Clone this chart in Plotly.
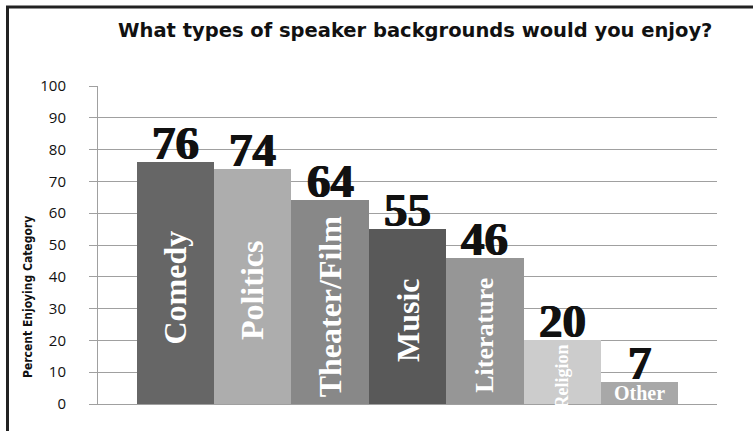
import plotly.graph_objects as go

# ---- data ----
categories = ["Comedy", "Politics", "Theater/Film", "Music", "Literature", "Religion", "Other"]
values = [76, 74, 64, 55, 46, 20, 7]
bar_colors = ["#666666", "#ADADAD", "#888888", "#595959", "#969696", "#CCCCCC", "#A8A8A8"]
label_sizes = [32, 32, 32, 32, 26, 18, 20]
label_angles = [-90, -90, -90, -90, -90, -90, 0]
y_ticks = list(range(0, 101, 10))

W, H = 753, 431
ML, MR, MT, MB = 98, 36, 86, 27
PW = W - ML - MR
PH = H - MT - MB

def px_to_paper_x(px):
    return (px - ML) / PW

def px_to_paper_y(py):
    return (H - MB - py) / PH

xs = list(range(len(categories)))

fig = go.Figure()
fig.add_trace(go.Bar(
    x=xs, y=values, width=1.0,
    marker=dict(color=bar_colors, line=dict(width=0)),
    hoverinfo="skip",
))

annotations = []
for i, (c, v) in enumerate(zip(categories, values)):
    annotations.append(dict(
        x=i, y=v, xref="x", yref="y", text="<b>%d</b>" % v, showarrow=False,
        xanchor="center", yanchor="bottom", yshift=-9,
        font=dict(family="Liberation Serif", size=47, color="#111111",
                  shadow="0.7px 0 0 #111111, -0.7px 0 0 #111111"),
    ))
    annotations.append(dict(
        x=i, y=v / 2, xref="x", yref="y", text="<b>%s</b>" % c, showarrow=False,
        xanchor="center", yanchor="middle",
        textangle=label_angles[i], yshift=-4 if label_angles[i] != 0 else 0,
        font=dict(family="Liberation Serif", size=label_sizes[i], color="white"),
    ))

# title
annotations.append(dict(
    x=px_to_paper_x(415), y=px_to_paper_y(31), xref="paper", yref="paper",
    xanchor="center", yanchor="middle",
    text="<b>What types of speaker backgrounds would you enjoy?</b>", showarrow=False,
    font=dict(family="DejaVu Sans", size=19.5, color="#111111"),
))
# y-axis title
annotations.append(dict(
    x=px_to_paper_x(28), y=px_to_paper_y(297), xref="paper", yref="paper",
    xanchor="center", yanchor="middle",
    text="<b>Percent Enjoying Category</b>", showarrow=False, textangle=-90,
    font=dict(family="Liberation Sans Narrow, DejaVu Sans Condensed", size=12, color="#111111"),
))

shapes = [dict(
    type="rect", xref="paper", yref="paper",
    x0=px_to_paper_x(7.5), x1=px_to_paper_x(W + 50),
    y0=px_to_paper_y(H + 50), y1=px_to_paper_y(7),
    line=dict(color="#222222", width=3), fillcolor="rgba(0,0,0,0)", layer="above",
)]

fig.update_layout(
    width=W, height=H,
    margin=dict(l=ML, r=MR, t=MT, b=MB, pad=0),
    paper_bgcolor="white", plot_bgcolor="white",
    showlegend=False,
    bargap=0,
    annotations=annotations,
    shapes=shapes,
    xaxis=dict(
        range=[-1, 7], showticklabels=False, ticks="", showgrid=False,
        zeroline=False, showline=True, linecolor="#A0A0A0", linewidth=1, fixedrange=True,
    ),
    yaxis=dict(
        range=[0, 100], tickvals=y_ticks, ticks="outside", ticklen=8, tickcolor="#A0A0A0",
        showgrid=True, gridcolor="#A0A0A0", gridwidth=1, zeroline=False,
        showline=True, linecolor="#A0A0A0", linewidth=1,
        tickfont=dict(family="Open Sans", size=15, color="#111111"),
        ticklabelstandoff=20, fixedrange=True,
    ),
)

fig.write_html("out.html", config={"displayModeBar": False})
